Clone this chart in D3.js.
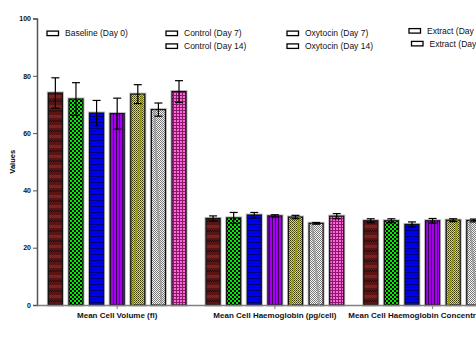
<!DOCTYPE html>
<html>
<head>
<meta charset="utf-8">
<script src="https://cdn.jsdelivr.net/npm/d3@7"></script>
<style>
body{margin:0;background:#fff}
svg{display:block;font-family:"Liberation Sans",Arial,sans-serif}
</style>
</head>
<body>
<div id="chart"></div>
<script>
let categories = ["Mean Cell Volume (fl)", "Mean Cell Haemoglobin (pg/cell)", "Mean Cell Haemoglobin Concentration (g/dl)"]
let series = ["Baseline (Day 0)", "Control (Day 7)", "Control (Day 14)", "Oxytocin (Day 7)", "Oxytocin (Day 14)", "Extract (Day 7)", "Extract (Day 14)"]
// means per category, one row per series
let means = [
    [74.0, 30.2, 29.4],
    [71.9, 30.4, 29.4],
    [67.0, 31.4, 28.1],
    [66.8, 31.1, 29.4],
    [73.6, 30.7, 29.6],
    [68.2, 28.5, 29.5],
    [74.5, 31.0, 29.8]
]
let errors = [
    [5.3, 0.9, 0.7],
    [5.7, 1.9, 0.7],
    [4.4, 0.9, 0.9],
    [5.4, 0.4, 0.8],
    [3.3, 0.6, 0.5],
    [2.3, 0.3, 0.5],
    [3.8, 0.9, 0.6]
]
let yTicks = [0, 20, 40, 60, 80, 100]

function getConfig(){
    let width = 476, height = 338
    let margin = {top: 18.5, bottom: 33, left: 37}
    let svg = d3.select("#chart").append("svg")
        .attr("width", width).attr("height", height)
    return {width, height, margin, svg, plotBottom: height - margin.bottom}
}

function makePatterns(defs){
    function pat(id, w, h){
        return defs.append("pattern").attr("id", id)
            .attr("patternUnits", "userSpaceOnUse").attr("width", w).attr("height", h)
    }
    // dark red fine check with bands
    let p = pat("p0", 2, 10)
    p.append("rect").attr("width", 2).attr("height", 10).attr("fill", "#5a1414")
    p.append("rect").attr("width", 1).attr("height", 1).attr("fill", "#2a0606")
    p.append("rect").attr("x", 1).attr("y", 1).attr("width", 1).attr("height", 1).attr("fill", "#2a0606")
    p.append("rect").attr("y", 5).attr("width", 2).attr("height", 3).attr("fill", "#7a2222")
    // green checker
    p = pat("p1", 4, 4)
    p.append("rect").attr("width", 4).attr("height", 4).attr("fill", "#00ee00")
    p.append("rect").attr("width", 2).attr("height", 2).attr("fill", "#000")
    p.append("rect").attr("x", 2).attr("y", 2).attr("width", 2).attr("height", 2).attr("fill", "#000")
    // blue horizontal lines
    p = pat("p2", 4, 3)
    p.append("rect").attr("width", 4).attr("height", 3).attr("fill", "#0000f0")
    p.append("rect").attr("y", 2).attr("width", 4).attr("height", 1).attr("fill", "#00007a")
    // purple vertical lines
    p = pat("p3", 3, 4)
    p.append("rect").attr("width", 3).attr("height", 4).attr("fill", "#a400ee")
    p.append("rect").attr("x", 2).attr("width", 1).attr("height", 4).attr("fill", "#3a0055")
    // yellow fine check
    p = pat("p4", 2, 2)
    p.append("rect").attr("width", 2).attr("height", 2).attr("fill", "#e8e800")
    p.append("rect").attr("width", 1).attr("height", 1).attr("fill", "#3a3a00")
    p.append("rect").attr("x", 1).attr("y", 1).attr("width", 1).attr("height", 1).attr("fill", "#6a6a00")
    // grey / white check
    p = pat("p5", 2, 2)
    p.append("rect").attr("width", 2).attr("height", 2).attr("fill", "#f4f4f4")
    p.append("rect").attr("width", 1).attr("height", 1).attr("fill", "#7a7a7a")
    p.append("rect").attr("x", 1).attr("y", 1).attr("width", 1).attr("height", 1).attr("fill", "#7a7a7a")
    // pink grid
    p = pat("p6", 3, 3)
    p.append("rect").attr("width", 3).attr("height", 3).attr("fill", "#ff66dd")
    p.append("rect").attr("x", 2).attr("width", 1).attr("height", 3).attr("fill", "#8a1a6a")
    p.append("rect").attr("y", 2).attr("width", 3).attr("height", 1).attr("fill", "#8a1a6a")
}

function getScales(config){
    let { margin, plotBottom } = config
    let groupStep = 157.7
    let padInner = 0.127, padOuter = 0.072
    let xScale = d3.scaleBand()
        .domain(categories)
        .range([margin.left, margin.left + groupStep * (categories.length - padInner + 2 * padOuter)])
        .paddingInner(padInner).paddingOuter(padOuter)
    let innerScale = d3.scaleBand()
        .domain(series)
        .range([0, xScale.bandwidth()])
        .paddingInner(0.32).paddingOuter(0)
    let yScale = d3.scaleLinear().domain([0, 100]).range([plotBottom, margin.top])
    return {xScale, innerScale, yScale}
}

function drawChart(config, scales){
    let { svg, margin, width, plotBottom } = config
    let { xScale, innerScale, yScale } = scales
    makePatterns(svg.append("defs"))

    // bars
    let rows = []
    series.forEach((s, i) => {
        categories.forEach((c, j) => {
            rows.push({s, i, c, v: means[i][j], e: errors[i][j]})
        })
    })
    let bars = svg.append("g")
    bars.selectAll("rect.halo").data(rows).enter().append("rect")
        .attr("x", d => xScale(d.c) + innerScale(d.s))
        .attr("y", d => yScale(d.v))
        .attr("width", innerScale.bandwidth())
        .attr("height", d => yScale(0) - yScale(d.v))
        .attr("fill", "none").attr("stroke", "#b8b8b8").attr("stroke-width", 3)
    bars.selectAll("rect.bar").data(rows).enter().append("rect")
        .attr("x", d => xScale(d.c) + innerScale(d.s))
        .attr("y", d => yScale(d.v))
        .attr("width", innerScale.bandwidth())
        .attr("height", d => yScale(0) - yScale(d.v))
        .attr("fill", d => "url(#p" + d.i + ")")
        .attr("stroke", "#111").attr("stroke-width", 1.2)

    // diagonal streaks on yellow and grey bars
    bars.selectAll("line.streak").data(rows.filter(d => d.i == 4 || d.i == 5)).enter().append("line")
        .attr("x1", d => xScale(d.c) + innerScale(d.s) + (d.i == 4 ? 2 : innerScale.bandwidth() - 4))
        .attr("x2", d => xScale(d.c) + innerScale(d.s) + (d.i == 4 ? innerScale.bandwidth() - 3 : 3))
        .attr("y1", yScale(0))
        .attr("y2", d => yScale(d.v))
        .attr("stroke", d => d.i == 4 ? "#9a9a00" : "#9a9a9a").attr("stroke-width", 2).attr("opacity", 0.8)

    // error bars
    let err = svg.append("g").attr("stroke", "#000").attr("stroke-width", 1.2)
    let cx = d => xScale(d.c) + innerScale(d.s) + innerScale.bandwidth() / 2
    err.selectAll("line.v").data(rows).enter().append("line")
        .attr("x1", cx).attr("x2", cx)
        .attr("y1", d => yScale(d.v + d.e)).attr("y2", d => yScale(d.v - d.e))
    err.selectAll("line.t").data(rows).enter().append("line")
        .attr("x1", d => cx(d) - 4).attr("x2", d => cx(d) + 4)
        .attr("y1", d => yScale(d.v + d.e)).attr("y2", d => yScale(d.v + d.e))
    err.selectAll("line.b").data(rows).enter().append("line")
        .attr("x1", d => cx(d) - 4).attr("x2", d => cx(d) + 4)
        .attr("y1", d => yScale(d.v - d.e)).attr("y2", d => yScale(d.v - d.e))

    // axes
    let axisY = d3.axisLeft(yScale).tickValues(yTicks).tickSize(4).tickPadding(2)
    let gy = svg.append("g").attr("transform", "translate(" + margin.left + ",0)").call(axisY)
    gy.select(".domain").attr("stroke", "#555").attr("stroke-width", 1.5)
    gy.selectAll(".tick line").attr("stroke", "#555")
    gy.selectAll("text").attr("font-size", "7px").attr("font-weight", "bold")
        .attr("font-family", "Liberation Sans, Arial, sans-serif").attr("fill", "#111")

    let axisX = d3.axisBottom(xScale).tickSize(4).tickPadding(3.5).tickSizeOuter(0)
    let gx = svg.append("g").attr("transform", "translate(0," + plotBottom + ")").call(axisX)
    gx.select(".domain").attr("stroke", "#808080").attr("stroke-width", 1.5)
    gx.selectAll(".tick line").attr("stroke", "#808080")
    gx.selectAll("text").attr("font-size", "8px").attr("font-weight", "bold")
        .attr("font-family", "Liberation Sans, Arial, sans-serif").attr("fill", "#111")

    svg.append("text")
        .attr("transform", "translate(15," + (yScale(50)) + ") rotate(-90)")
        .attr("text-anchor", "middle")
        .attr("font-size", "7.5px").attr("font-weight", "bold")
        .text("Values")
}

function legend(config){
    let { svg } = config
    // column/row layout of the legend: baseline alone, then pairs
    let colX = [47, 166, 287, 409]
    let slots = series.map((s, i) => {
        let col = i == 0 ? 0 : Math.ceil(i / 2)
        let row = i == 0 ? 0 : (i - 1) % 2
        return {s, col, row}
    })
    let g = svg.append("g")
    slots.forEach(d => {
        let shiftY = d.col == 3 ? -2.5 : 0
        let shiftX = d.col == 3 ? d.row * 2.5 : 0
        let x = colX[d.col] + shiftX
        let y = 33.3 + d.row * 12.8 + shiftY
        g.append("rect").attr("x", x).attr("y", y - 2.2).attr("width", 11.5).attr("height", 4.5)
            .attr("fill", "#fff").attr("stroke", "#000").attr("stroke-width", 1.3)
        g.append("text").attr("x", x + 18).attr("y", y + 3)
            .attr("font-size", "8.5px").attr("fill", "#111").text(d.s)
    })
}

let config = getConfig()
let scales = getScales(config)
drawChart(config, scales)
legend(config)
</script>
</body>
</html>
